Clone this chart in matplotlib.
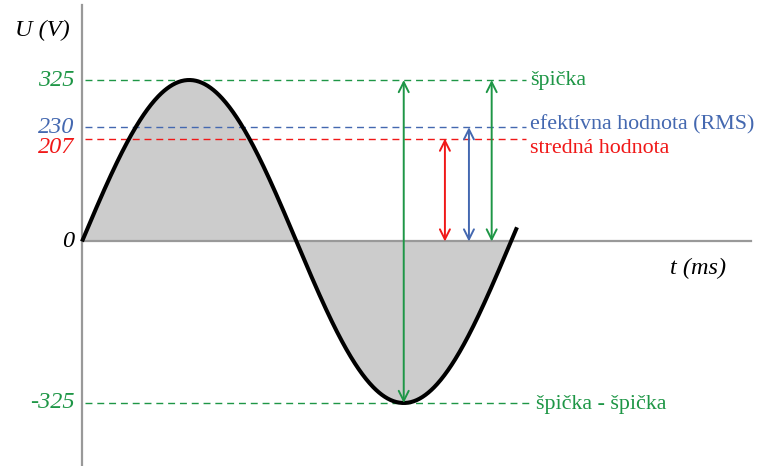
import numpy as np
import matplotlib.pyplot as plt

# values of the diagram
amplitude = 325          # V, peak
period = 20.0            # ms
t_end = 20.28            # ms, where the curve stops

level_values = [325, 230, 207, -325]
level_labels = ['špička', 'efektívna hodnota (RMS)', 'stredná hodnota', 'špička - špička']
tick_labels = ['325', '230', '207', '0', '-325']
tick_values = [325, 230, 207, 0, -325]

GREEN = '#1e9646'
BLUE = '#4468b0'
RED = '#f01818'
level_colors = [GREEN, BLUE, RED, GREEN]
tick_colors = [GREEN, BLUE, RED, 'black', GREEN]

# arrows: (t, bottom, top, colour)
arrow_t = [15.0, 16.92, 18.04, 19.1]
arrow_bottom = [-325, 0, 0, 0]
arrow_top = [325, 207, 230, 325]
arrow_colors = [GREEN, RED, BLUE, GREEN]

plt.rcParams['font.family'] = ['Liberation Serif', 'DejaVu Serif']

fig = plt.figure(figsize=(7.6, 4.66), dpi=100)
ax = fig.add_axes([0, 0, 1, 1])
ax.set_xlim(-3.823, 31.61)
ax.set_ylim(-451.8, 486.0)
ax.axis('off')

# sine curve
t = np.linspace(0, t_end, 600)
u = amplitude * np.sin(2 * np.pi * t / period)
tf = np.linspace(0, period, 600)
uf = amplitude * np.sin(2 * np.pi * tf / period)
ax.fill_between(tf, uf, 0, color='#cccccc', lw=0, zorder=1)

# axes
ax.plot([0, 31.2], [0, 0], color='#999999', lw=1.6, zorder=2)
ax.plot([0, 0], [475, -460], color='#999999', lw=1.6, zorder=2)

ax.plot(t, u, color='black', lw=2.9, zorder=4, solid_capstyle='butt')

# dashed levels
label_offset = [0, 4, -20, -4]
for v, lab, c, off in zip(level_values, level_labels, level_colors, label_offset):
    end = 20.95 if v < 0 else 20.7
    ax.plot([0.15, end], [v, v], color=c, lw=1.0, dashes=(5, 3.5), zorder=3)
    ax.text(end + 0.2, v + off, lab, color=c, fontsize=15.8, va='center', ha='left')

# left value labels
for v, lab, c in zip(tick_values, tick_labels, tick_colors):
    yoff = 0
    if lab == '207':
        yoff = -18
    ax.text(-0.35, v + yoff, lab, color=c, fontsize=17.5, style='italic',
            va='center', ha='right')

ax.text(-0.55, 425, 'U (V)', fontsize=17.5, style='italic', va='center', ha='right')
ax.text(28.7, -55, 't (ms)', fontsize=17.5, style='italic', va='center', ha='center')

# arrows
for x, b, top, c in zip(arrow_t, arrow_bottom, arrow_top, arrow_colors):
    ax.annotate('', xy=(x, top), xytext=(x, b),
                arrowprops=dict(arrowstyle='<->', color=c, lw=1.4,
                                shrinkA=0, shrinkB=0,
                                mutation_scale=18), zorder=5)

fig.savefig('out.png', dpi=100)
